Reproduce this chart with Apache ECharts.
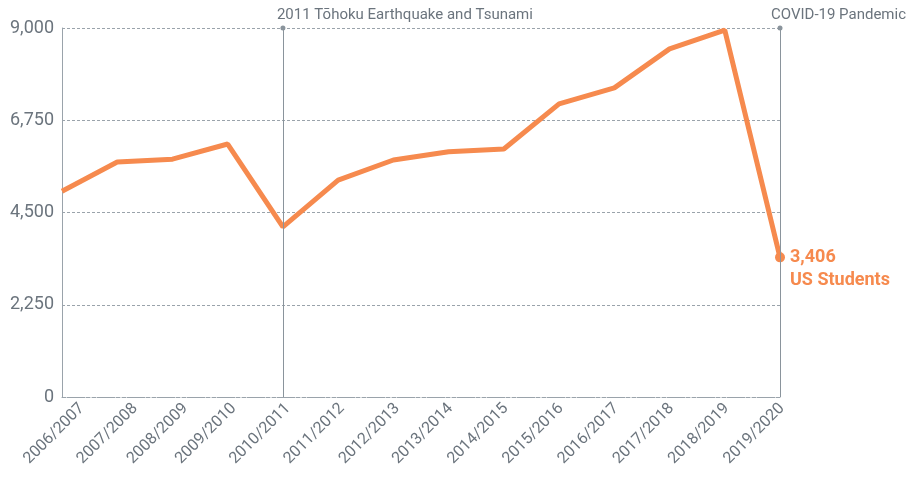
<!DOCTYPE html>
<html><head><meta charset="utf-8">
<script src="https://cdn.jsdelivr.net/npm/echarts@6/dist/echarts.min.js"></script>
<style>html,body{margin:0;padding:0;background:#fff}#c{width:909px;height:482px}</style>
</head><body><div id="c"></div>
<script>
const categories = ['2006/2007','2007/2008','2008/2009','2009/2010','2010/2011','2011/2012','2012/2013','2013/2014','2014/2015','2015/2016','2016/2017','2017/2018','2018/2019','2019/2020'];
const students = [5020, 5730, 5800, 6170, 4150, 5290, 5780, 5980, 6050, 7150, 7540, 8490, 8950, 3406];
const yTicks = [0, 2250, 4500, 6750, 9000];
const events = [
  {at: '2010/2011', label: '2011 Tōhoku Earthquake and Tsunami'},
  {at: '2019/2020', label: 'COVID-19 Pandemic'}
];
const FONT = '"Roboto", sans-serif';
const GRAY = '#6b747d';
const ORANGE = '#F68A4E';
// horizontal label shift (px) for category labels, as in the original layout
const labelShift = [20, 18, 13, 6, 5, 4, 4, 2, 2, 2, 2, 2, 2, 2];
const rich = {};
labelShift.forEach((s, i) => {
  const k = s * Math.SQRT1_2;
  rich['l' + i] = {color: GRAY, fontFamily: FONT, fontSize: 16, padding: [2 * k, -k, 0, 0]};
});
const chart = echarts.init(document.getElementById('c'));
chart.setOption({
  animation: false,
  grid: {left: 62, right: 129, top: 28, bottom: 85, containLabel: false},
  xAxis: {
    type: 'category', data: categories, boundaryGap: false,
    axisLine: {show: true, lineStyle: {color: '#9aa3ab', type: 'dashed', width: 1}},
    axisTick: {show: false},
    axisLabel: {rotate: 45, color: GRAY, fontFamily: FONT, fontSize: 16, margin: 9, interval: 0,
      formatter: (v, i) => '{l' + i + '|' + v + '}', rich: rich}
  },
  yAxis: {
    type: 'value', min: 0, max: 9000, interval: 2250,
    axisLine: {show: true, lineStyle: {color: '#9aa3ab', width: 1}},
    axisTick: {show: false},
    splitLine: {show: true, lineStyle: {color: '#9aa3ab', type: [3, 2], width: 1}},
    axisLabel: {color: GRAY, fontFamily: FONT, fontSize: 18, margin: 8,
      formatter: v => yTicks.includes(v) ? v.toLocaleString('en-US') : ''}
  },
  series: [{
    type: 'line',
    data: students.map((v, i) => i === students.length - 1 ? v : {value: v, symbolSize: 0}),
    lineStyle: {color: ORANGE, width: 5},
    itemStyle: {color: ORANGE},
    symbol: 'circle', symbolSize: 10,
    showSymbol: true, showAllSymbol: true,
    emphasis: {disabled: true},
    endLabel: {
      show: true, distance: 10, offset: [0, 12],
      formatter: p => '{a|' + p.value.toLocaleString('en-US') + '}\n{a|US Students}',
      rich: {a: {color: ORANGE, fontFamily: FONT, fontSize: 18, fontWeight: 'bold', lineHeight: 23}}
    },
    markLine: {
      silent: true, symbol: ['none', 'circle'], symbolSize: 5,
      lineStyle: {color: '#8a949c', type: 'solid', width: 1},
      label: {show: true, position: 'end', color: GRAY, fontFamily: FONT, fontSize: 15,
        align: 'left', formatter: p => p.name},
      data: events.map((e, i) => ({xAxis: e.at, name: e.label,
        label: {offset: [i === 0 ? -6 : -9, 0]}}))
    }
  }]
});
</script></body></html>
